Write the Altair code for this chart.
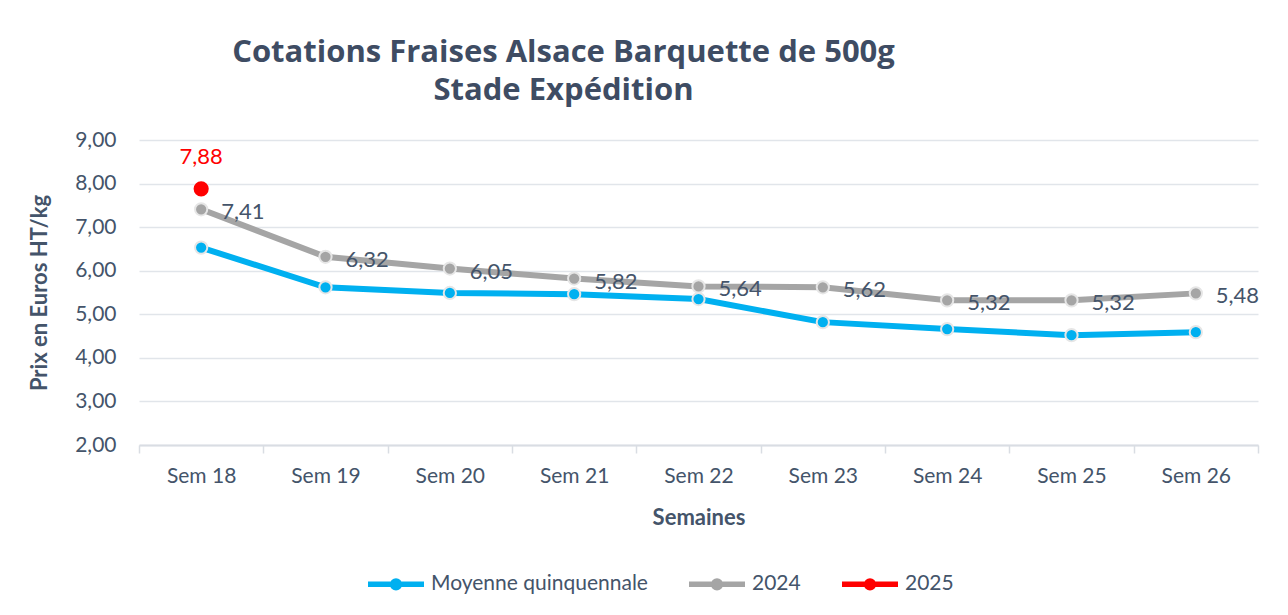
import altair as alt
import pandas as pd

semaines = ["Sem 18", "Sem 19", "Sem 20", "Sem 21", "Sem 22", "Sem 23", "Sem 24", "Sem 25", "Sem 26"]
moyenne = [6.53, 5.62, 5.49, 5.46, 5.35, 4.82, 4.66, 4.52, 4.59]
annee_2024 = [7.41, 6.32, 6.05, 5.82, 5.64, 5.62, 5.32, 5.32, 5.48]
semaines_2025 = ["Sem 18"]
annee_2025 = [7.88]

series_order = ["Moyenne quinquennale", "2024", "2025"]
series_colors = ["#00b0f0", "#a5a5a5", "#ff0000"]

rows = []
for s, v in zip(semaines, moyenne):
    rows.append({"Semaine": s, "Serie": "Moyenne quinquennale", "Prix": v})
for s, v in zip(semaines, annee_2024):
    rows.append({"Semaine": s, "Serie": "2024", "Prix": v})
for s, v in zip(semaines_2025, annee_2025):
    rows.append({"Semaine": s, "Serie": "2025", "Prix": v})
df = pd.DataFrame(rows)

TXT = "#44546a"
FONT = "Lato"

# legend symbol (stroked): a short line with a small ring that reads as a dot
LINE_DOT = ("M-1,0 L1,0 "
            "M0.12,0 A0.12,0.12 0 1,1 -0.12,0 A0.12,0.12 0 1,1 0.12,0 Z")

x_enc = alt.X(
    "Semaine:N",
    sort=semaines,
    scale=alt.Scale(type="band", paddingInner=0, paddingOuter=0),
    axis=alt.Axis(
        title="Semaines", labelAngle=0, tickBand="extent", tickSize=8,
        tickColor="#d9dde3", tickWidth=1.5, domainColor="#d9dde3", domainWidth=2,
        grid=False, labelPadding=12, titlePadding=21,
    ),
)
y_enc = alt.Y(
    "Prix:Q",
    scale=alt.Scale(domain=[2, 9], nice=False, zero=False),
    axis=alt.Axis(
        title="Prix en Euros HT/kg", values=[2, 3, 4, 5, 6, 7, 8, 9],
        labelExpr="replace(format(datum.value, '.2f'), '.', ',')",
        domain=False, ticks=False, labelPadding=23, titlePadding=23,
        gridColor="#e1e5ea", gridWidth=1.5,
    ),
)
color_scale = alt.Scale(domain=series_order, range=series_colors)

lines = alt.Chart(df).mark_line(strokeWidth=6).encode(
    x=x_enc, y=y_enc,
    color=alt.Color(
        "Serie:N", scale=color_scale, sort=series_order,
        legend=alt.Legend(
            title=None, orient="none", direction="horizontal",
            legendX=226, legendY=413, columnPadding=30, labelOffset=4,
            symbolType=LINE_DOT, symbolSize=3136, symbolStrokeWidth=5.5,
            labelFontSize=21, labelColor=TXT, labelFont=FONT, labelLimit=400,
        ),
    ),
)

points = alt.Chart(df).transform_filter(alt.datum.Serie != "2025").mark_point(
    filled=True, size=150, stroke="#e6e6e6", strokeWidth=2, opacity=1
).encode(
    x=alt.X("Semaine:N", sort=semaines), y="Prix:Q",
    fill=alt.Fill("Serie:N", scale=color_scale, sort=series_order, legend=None),
)

red_point = alt.Chart(df).transform_filter(alt.datum.Serie == "2025").mark_point(
    filled=True, size=230, color="#ff0000", opacity=1
).encode(x=alt.X("Semaine:N", sort=semaines), y="Prix:Q")

labels_2024 = alt.Chart(df).transform_filter(alt.datum.Serie == "2024").transform_calculate(
    lab="replace(format(datum.Prix, '.2f'), '.', ',')"
).mark_text(align="left", baseline="middle", dx=20, dy=3, fontSize=22, color=TXT, font=FONT).encode(
    x=alt.X("Semaine:N", sort=semaines), y="Prix:Q", text="lab:N"
)

labels_2025 = alt.Chart(df).transform_filter(alt.datum.Serie == "2025").transform_calculate(
    lab="replace(format(datum.Prix, '.2f'), '.', ',')"
).mark_text(align="center", baseline="middle", dy=-32, fontSize=22, color="#ff0000", font=FONT).encode(
    x=alt.X("Semaine:N", sort=semaines), y="Prix:Q", text="lab:N"
)

chart = alt.layer(lines, points, red_point, labels_2024, labels_2025).properties(
    width=1119,
    height=305,
    autosize=alt.AutoSizeParams(type="none"),
    padding={"left": 131, "top": 132, "right": 22, "bottom": 160},
    title=alt.TitleParams(
        text=["Cotations Fraises Alsace Barquette de 500g", "Stade Expédition"],
        anchor="middle", dx=-135, offset=22, fontSize=31, font="Open Sans",
        fontWeight="bold", color="#3e4c63", lineHeight=38,
    ),
).configure(background="white").configure_view(stroke=None).configure_axis(
    labelFont=FONT, titleFont=FONT, labelFontSize=21, titleFontSize=22,
    labelColor=TXT, titleColor=TXT, titleFontWeight="bold",
)

chart.save("out.html", embed_options={"renderer": "svg", "actions": False})
